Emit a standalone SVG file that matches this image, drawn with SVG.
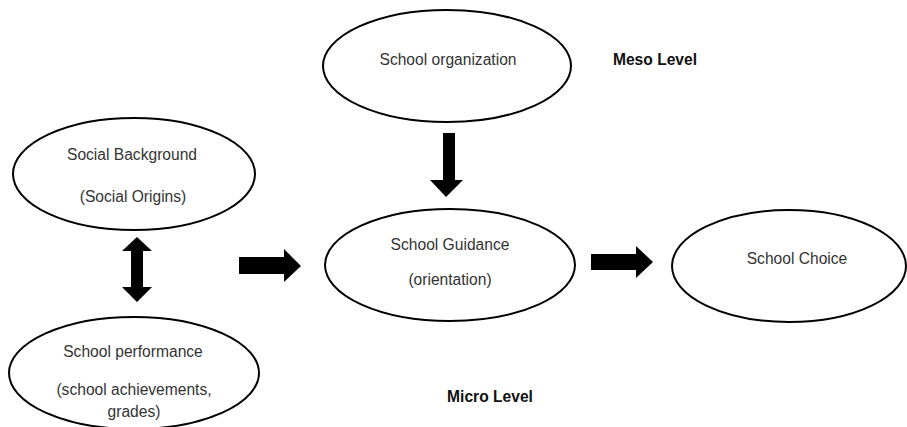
<svg xmlns="http://www.w3.org/2000/svg" width="907" height="427" viewBox="0 0 907 427">
<style>
.node ellipse{fill:#fff;stroke:#000;stroke-width:2}
.t{font-family:"Liberation Sans",Arial,sans-serif;font-size:15.6px;fill:#333;text-anchor:middle}
.b{font-family:"Liberation Sans",Arial,sans-serif;font-size:15.6px;font-weight:bold;fill:#111;text-anchor:middle}
.arr{fill:#000}
</style>
<rect width="907" height="427" fill="#fff"/>
<g id="social-background" class="node">
<ellipse cx="134" cy="174" rx="121" ry="56"/>
<text class="t" x="132" y="160">Social Background</text>
<text class="t" x="133" y="202">(Social Origins)</text>
</g>
<g id="school-performance" class="node">
<ellipse cx="134" cy="373" rx="125" ry="56"/>
<text class="t" x="133" y="357">School performance</text>
<text class="t" x="134" y="395">(school achievements,</text>
<text class="t" x="134" y="417">grades)</text>
</g>
<g id="school-organization" class="node">
<ellipse cx="447" cy="66" rx="124" ry="56"/>
<text class="t" x="448" y="65">School organization</text>
</g>
<g id="school-guidance" class="node">
<ellipse cx="450" cy="265" rx="125" ry="56"/>
<text class="t" x="450" y="250">School Guidance</text>
<text class="t" x="450" y="285">(orientation)</text>
</g>
<g id="school-choice" class="node">
<ellipse cx="789" cy="266" rx="117" ry="56"/>
<text class="t" x="797" y="264">School Choice</text>
</g>
<g id="meso-label">
<text class="b" x="655" y="65">Meso Level</text>
</g>
<g id="micro-label">
<text class="b" x="490" y="402">Micro Level</text>
</g>
<g id="connectors">
<polygon class="arr" points="137,237 152,251 143,251 143,287 152,287 137,302 122,287 131,287 131,251 122,251"/>
<polygon class="arr" points="239,257 284,257 284,249 301,266 284,282 284,274 239,274"/>
<polygon class="arr" points="443,133 455,133 455,180 463,180 446,197 430,180 443,180"/>
<polygon class="arr" points="591,254 636,254 636,246 653,262 636,278 636,270 591,270"/>
</g>
</svg>
